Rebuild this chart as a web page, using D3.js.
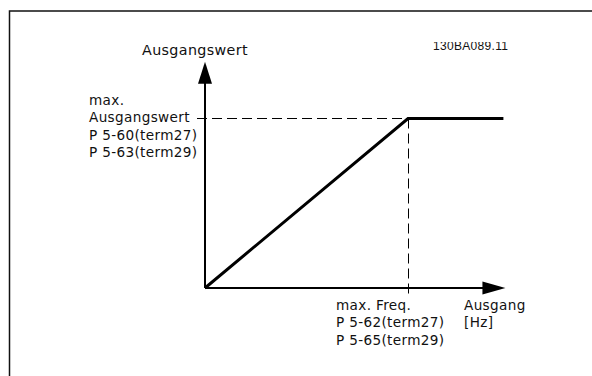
<!DOCTYPE html>
<html>
<head>
<meta charset="utf-8">
<script src="https://cdn.jsdelivr.net/npm/d3@7"></script>
<style>
  body { margin: 0; background: #fff; }
  text { font-family: "DejaVu Sans", Verdana, sans-serif; fill: #111; letter-spacing: 0.35px; }
</style>
</head>
<body>
<div id="chart"></div>
<script>
// output curve: rises linearly to max, then stays flat
var curveX = [0, 1, 1.47];
var curveY = [0, 1, 1];

// axis extents (arrow tips)
var axisMaxX = 1.48;
var axisMaxY = 1.335;

var yTitle = "Ausgangswert";
var yMaxLabel = ["max.", "Ausgangswert", "P 5-60(term27)", "P 5-63(term29)"];
var xMaxLabel = ["max. Freq.", "P 5-62(term27)", "P 5-65(term29)"];
var xTitle = ["Ausgang", "[Hz]"];
var docId = "130BA089.11";

var W = 592, H = 376;
var origin = {x: 205, y: 288};

var svg = d3.select("#chart")
  .append("svg")
    .attr("width", W)
    .attr("height", H);

// frame (only top and left edges visible)
svg.append("path")
  .attr("d", "M9.5," + H + "V11H" + W)
  .attr("fill", "none")
  .attr("stroke", "#111")
  .attr("stroke-width", 1.5);

var x = d3.scaleLinear().domain([0, 1]).range([origin.x, 408]);
var y = d3.scaleLinear().domain([0, 1]).range([origin.y, 118.5]);

// dashed guides to the max point
svg.append("line")
  .attr("x1", 197).attr("x2", x(1))
  .attr("y1", y(1)).attr("y2", y(1))
  .attr("stroke", "#000")
  .attr("stroke-width", 1)
  .attr("stroke-dasharray", "10,5");
svg.append("line")
  .attr("x1", x(1) + 0.5).attr("x2", x(1) + 0.5)
  .attr("y1", y(1)).attr("y2", y(0) + 9)
  .attr("stroke", "#000")
  .attr("stroke-width", 1)
  .attr("stroke-dasharray", "10,5");

// axes with arrowheads
svg.append("line")
  .attr("x1", x(0)).attr("x2", x(0))
  .attr("y1", y(0)).attr("y2", y(axisMaxY) + 18)
  .attr("stroke", "#000").attr("stroke-width", 2);
svg.append("path")
  .attr("d", "M" + x(0) + "," + y(axisMaxY) + "L" + (x(0) - 7) + "," + (y(axisMaxY) + 22) +
             "L" + (x(0) + 7) + "," + (y(axisMaxY) + 22) + "Z")
  .attr("fill", "#000");

svg.append("line")
  .attr("x1", x(0)).attr("x2", x(axisMaxX) - 18)
  .attr("y1", y(0)).attr("y2", y(0))
  .attr("stroke", "#000").attr("stroke-width", 2);
svg.append("path")
  .attr("d", "M" + x(axisMaxX) + "," + y(0) + "L" + (x(axisMaxX) - 23) + "," + (y(0) - 6.5) +
             "L" + (x(axisMaxX) - 23) + "," + (y(0) + 6.5) + "Z")
  .attr("fill", "#000");

// the curve
var line = d3.line()
  .x(function(d) { return x(d[0]); })
  .y(function(d) { return y(d[1]); });
svg.append("path")
  .datum(d3.zip(curveX, curveY))
  .attr("d", line)
  .attr("fill", "none")
  .attr("stroke", "#000")
  .attr("stroke-width", 3);

// labels
svg.append("text")
  .attr("x", 142).attr("y", 55)
  .style("font-size", "14.3px")
  .text(yTitle);

yMaxLabel.forEach(function(t, i) {
  svg.append("text")
    .attr("x", 89).attr("y", 105 + i * 17.3)
    .style("font-size", "13.6px")
    .text(t);
});

xMaxLabel.forEach(function(t, i) {
  svg.append("text")
    .attr("x", 336).attr("y", 310 + i * 17.3)
    .style("font-size", "13.6px")
    .text(t);
});

xTitle.forEach(function(t, i) {
  svg.append("text")
    .attr("x", 464).attr("y", 310 + i * 17.3)
    .style("font-size", "13.6px")
    .text(t);
});

svg.append("clipPath").attr("id", "idclip")
  .append("rect").attr("x", 420).attr("y", 42).attr("width", 120).attr("height", 12);
svg.append("text")
  .attr("x", 433).attr("y", 49.5)
  .attr("clip-path", "url(#idclip)")
  .attr("textLength", 75)
  .style("font-family", "'Liberation Sans', Arial, sans-serif")
  .style("font-size", "12px")
  .style("letter-spacing", "0px")
  .text(docId);
</script>
</body>
</html>
